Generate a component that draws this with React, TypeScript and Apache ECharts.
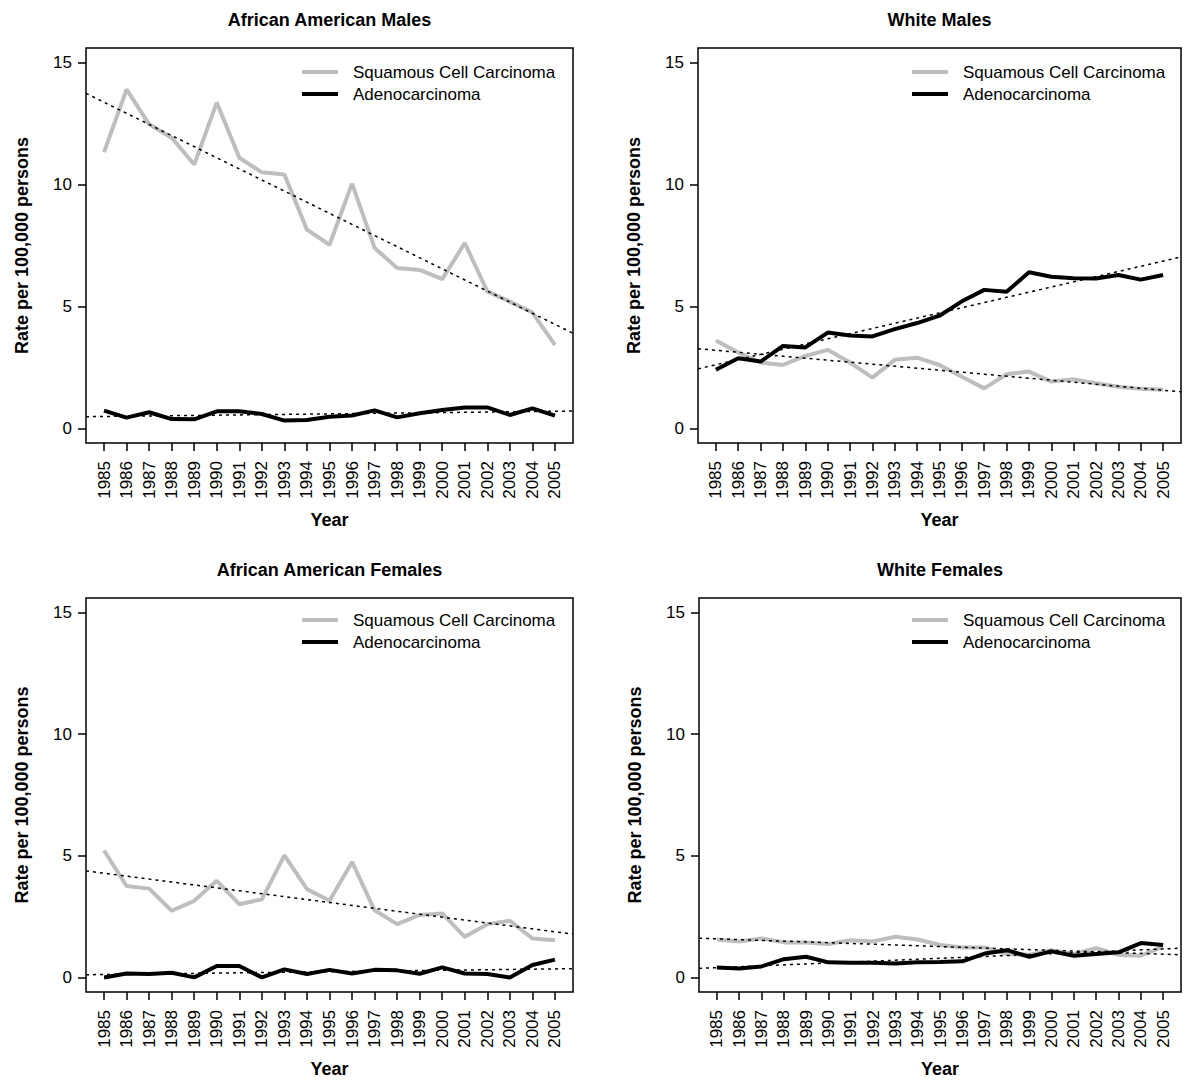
import React, { useEffect, useRef } from "react";
import * as echarts from "echarts";

const years = [1985, 1986, 1987, 1988, 1989, 1990, 1991, 1992, 1993, 1994, 1995, 1996, 1997, 1998, 1999, 2000, 2001, 2002, 2003, 2004, 2005];
const yTicks = [0, 5, 10, 15];

const panelTitles = ["African American Males", "White Males", "African American Females", "White Females"];

// Squamous Cell Carcinoma rates
const sccAAM = [11.33, 13.9, 12.47, 11.92, 10.82, 13.36, 11.1, 10.5, 10.41, 8.15, 7.53, 10.04, 7.4, 6.58, 6.5, 6.12, 7.6, 5.62, 5.2, 4.75, 3.42];
const sccWM = [3.6, 3.11, 2.7, 2.6, 2.97, 3.22, 2.7, 2.08, 2.81, 2.9, 2.6, 2.12, 1.64, 2.22, 2.33, 1.92, 2.01, 1.85, 1.71, 1.62, 1.58];
const sccAAF = [5.22, 3.76, 3.65, 2.74, 3.15, 3.97, 3.01, 3.21, 5.02, 3.63, 3.15, 4.75, 2.76, 2.19, 2.57, 2.63, 1.67, 2.19, 2.33, 1.6, 1.53];
const sccWF = [1.56, 1.48, 1.6, 1.44, 1.44, 1.37, 1.53, 1.48, 1.67, 1.56, 1.33, 1.23, 1.23, 0.96, 0.93, 1.12, 0.96, 1.2, 0.93, 0.89, 1.26];

// Adenocarcinoma rates
const adeAAM = [0.73, 0.44, 0.66, 0.38, 0.37, 0.7, 0.7, 0.59, 0.32, 0.34, 0.48, 0.53, 0.74, 0.45, 0.62, 0.75, 0.86, 0.86, 0.55, 0.82, 0.52];
const adeWM = [2.4, 2.88, 2.74, 3.38, 3.32, 3.93, 3.81, 3.77, 4.07, 4.32, 4.62, 5.21, 5.68, 5.6, 6.4, 6.22, 6.16, 6.15, 6.29, 6.1, 6.29];
const adeAAF = [0.0, 0.16, 0.14, 0.19, 0.0, 0.47, 0.47, 0.0, 0.33, 0.14, 0.31, 0.16, 0.31, 0.29, 0.15, 0.41, 0.16, 0.14, 0.0, 0.51, 0.73];
const adeWF = [0.41, 0.37, 0.45, 0.75, 0.85, 0.62, 0.6, 0.6, 0.57, 0.62, 0.63, 0.66, 0.98, 1.12, 0.85, 1.07, 0.89, 0.96, 1.03, 1.41, 1.33];

// Trend lines: values at the left and right edges of the plot box
const trendX = [1984.2, 2005.8];
const sccTrendAAM = [13.74, 3.9];
const sccTrendWM = [3.27, 1.5];
const sccTrendAAF = [4.38, 1.78];
const sccTrendWF = [1.61, 0.93];
const adeTrendAAM = [0.48, 0.71];
const adeTrendWM = [2.44, 7.03];
const adeTrendAAF = [0.11, 0.36];
const adeTrendWF = [0.37, 1.2];

const sccAll = [sccAAM, sccWM, sccAAF, sccWF];
const adeAll = [adeAAM, adeWM, adeAAF, adeWF];
const sccTrends = [sccTrendAAM, sccTrendWM, sccTrendAAF, sccTrendWF];
const adeTrends = [adeTrendAAM, adeTrendWM, adeTrendAAF, adeTrendWF];

const SCC = "Squamous Cell Carcinoma";
const ADE = "Adenocarcinoma";
const GRAY = "#bebebe";
const FONT = '"Liberation Sans", Arial, sans-serif';

const grids = [
  { left: 86, top: 48, width: 487, height: 395 },
  { left: 698, top: 48, width: 483, height: 395 },
  { left: 86, top: 598, width: 487, height: 394 },
  { left: 699, top: 598, width: 482, height: 394 },
];
const legendPos = [
  { left: 297, top: 58 },
  { left: 907, top: 58 },
  { left: 297, top: 606 },
  { left: 907, top: 606 },
];

export default function App() {
  const ref = useRef<HTMLDivElement>(null);
  useEffect(() => {
    document.body.style.margin = "0";
    if (!ref.current) return;
    const chart = echarts.init(ref.current, null, { renderer: "svg" });

    const series: any[] = [];
    for (let i = 0; i < 4; i++) {
      series.push({
        name: SCC,
        type: "line",
        xAxisIndex: i,
        yAxisIndex: i,
        symbol: "none",
        data: years.map((y, k) => [y, sccAll[i][k]]),
        itemStyle: { color: GRAY },
        lineStyle: { color: GRAY, width: 4 },
        z: 2,
      });
      series.push({
        name: ADE,
        type: "line",
        xAxisIndex: i,
        yAxisIndex: i,
        symbol: "none",
        data: years.map((y, k) => [y, adeAll[i][k]]),
        itemStyle: { color: "#000" },
        lineStyle: { color: "#000", width: 4 },
        z: 2,
      });
      series.push({
        name: "SCC trend",
        type: "line",
        xAxisIndex: i,
        yAxisIndex: i,
        symbol: "none",
        data: trendX.map((x, k) => [x, sccTrends[i][k]]),
        lineStyle: { color: "#000", width: 1.5, type: [3, 4] },
        itemStyle: { color: "#000" },
        z: 3,
      });
      series.push({
        name: "Adeno trend",
        type: "line",
        xAxisIndex: i,
        yAxisIndex: i,
        symbol: "none",
        data: trendX.map((x, k) => [x, adeTrends[i][k]]),
        lineStyle: { color: "#000", width: 1.5, type: [3, 4] },
        itemStyle: { color: "#000" },
        z: 3,
      });
    }

    const option: any = {
      animation: false,
      textStyle: { fontFamily: FONT, color: "#000" },
      grid: grids.map((g) => ({
        ...g,
        show: true,
        borderColor: "#000",
        borderWidth: 1.5,
        backgroundColor: "transparent",
        containLabel: false,
      })),
      xAxis: grids.map((_, i) => ({
        type: "value",
        gridIndex: i,
        min: trendX[0],
        max: trendX[1],
        position: "bottom",
        name: "Year",
        nameLocation: "middle",
        nameGap: 68,
        nameTextStyle: { fontSize: 18, fontWeight: "bold", color: "#000", fontFamily: FONT },
        axisLine: { show: false, onZero: false },
        splitLine: { show: false },
        axisTick: { show: true, length: 8, inside: false, lineStyle: { color: "#000", width: 1.5 }, customValues: years },
        axisLabel: {
          show: true,
          customValues: years,
          rotate: 90,
          margin: 18,
          fontSize: 17,
          color: "#000",
          fontFamily: FONT,
          formatter: (v: number) => String(v),
        },
      })),
      yAxis: grids.map((_, i) => ({
        type: "value",
        gridIndex: i,
        min: -0.6,
        max: 15.6,
        name: "Rate per 100,000 persons",
        nameLocation: "middle",
        nameGap: 55,
        nameTextStyle: { fontSize: 18, fontWeight: "bold", color: "#000", fontFamily: FONT },
        axisLine: { show: false, onZero: false },
        splitLine: { show: false },
        axisTick: { show: true, length: 8, inside: false, lineStyle: { color: "#000", width: 1.5 }, customValues: yTicks },
        axisLabel: {
          show: true,
          customValues: yTicks,
          margin: 14,
          fontSize: 17,
          color: "#000",
          fontFamily: FONT,
          formatter: (v: number) => String(v),
        },
      })),
      legend: legendPos.map((p) => ({
        ...p,
        orient: "vertical",
        data: [SCC, ADE],
        icon: "rect",
        itemWidth: 36,
        itemHeight: 4,
        itemGap: 4,
        selectedMode: false,
        textStyle: { fontSize: 17, color: "#000", fontFamily: FONT, lineHeight: 18, padding: [0, 0, 0, 10] },
      })),
      graphic: grids.map((g, i) => ({
        type: "text",
        x: g.left + g.width / 2,
        y: g.top - 28,
        style: {
          text: panelTitles[i],
          fontSize: 18,
          fontWeight: "bold",
          fontFamily: FONT,
          fill: "#000",
          align: "center",
          verticalAlign: "middle",
        },
      })),
      series,
    };
    chart.setOption(option);
    return () => chart.dispose();
  }, []);
  return <div ref={ref} style={{ width: 1200, height: 1089 }} />;
}
